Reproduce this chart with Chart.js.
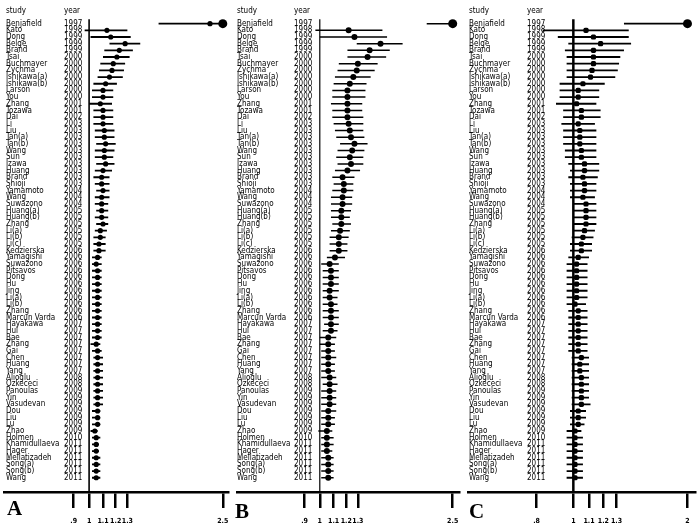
<!DOCTYPE html>
<html>
<head>
<meta charset="utf-8">
<script src="https://cdn.jsdelivr.net/npm/chart.js@4.4.1/dist/chart.umd.min.js"></script>
<style>
  body { margin: 0; background: #fff; }
  #wrap { position: relative; width: 700px; height: 528px; overflow: hidden; }
  .panel { position: absolute; top: 0; height: 528px; }
  .tag { position: absolute; font: bold 21px "Liberation Serif", "DejaVu Serif", serif; line-height: 21px; color: #000; }
</style>
</head>
<body>
<div id="wrap">
  <div class="panel" style="left:0;width:233px"><canvas id="chartA" width="233" height="528"></canvas></div>
  <div class="panel" style="left:233px;width:231px"><canvas id="chartB" width="231" height="528"></canvas></div>
  <div class="panel" style="left:464px;width:236px"><canvas id="chartC" width="236" height="528"></canvas></div>
  <div class="tag" style="left:7px;top:498px">A</div>
  <div class="tag" style="left:235px;top:501px">B</div>
  <div class="tag" style="left:469px;top:501px">C</div>
</div>
<script>
// study list (same order in all three panels)
const studies = ['Benjafield','Kato','Dong','Belge','Brand','Tsai','Buchmayer','Zychma','Ishikawa(a)','Ishikawa(b)',
  'Larson','You','Zhang','Tozawa','Dai','Li','Liu','Tan(a)','Tan(b)','Wang',
  'Sun','Izawa','Huang','Brand','Shioji','Yamamoto','Wang','Suwazono','Huang(a)','Huang(b)',
  'Zhang','Li(a)','Li(b)','Li(c)','Kedzierska','Yamagishi','Suwazono','Pitsavos','Dong','Hu',
  'Jing','Li(a)','Li(b)','Zhang','Marcun Varda','Hayakawa','Hui','Bae','Zhang','Gai',
  'Chen','Huang','Yang','Alioğlu','Ozkececi','Panoulas','Yin','Vasudevan','Dou','Liu',
  'Lu','Zhao','Holmen','Khamidullaeva','Hager','Mellatizadeh','Song(a)','Song(b)','Wang'];
const years = ['1997','1998','1999','1999','1999','2000','2000','2000','2000','2000',
  '2000','2000','2001','2001','2002','2003','2003','2003','2003','2003',
  '2003','2003','2003','2003','2003','2004','2004','2004','2005','2005',
  '2005','2005','2005','2005','2006','2006','2006','2006','2006','2006',
  '2006','2006','2006','2006','2006','2007','2007','2007','2007','2007',
  '2007','2007','2007','2008','2008','2009','2009','2009','2009','2009',
  '2009','2009','2010','2011','2011','2011','2011','2011','2011'];

// panel A: cumulative OR and 95% CI
const orA = [2.29,1.13,1.16,1.28,1.23,1.21,1.18,1.17,1.15,1.12,
  1.10,1.10,1.08,1.10,1.10,1.10,1.11,1.11,1.12,1.11,
  1.11,1.12,1.10,1.09,1.09,1.10,1.09,1.09,1.09,1.09,
  1.10,1.08,1.08,1.07,1.07,1.06,1.05,1.06,1.06,1.06,
  1.06,1.06,1.06,1.06,1.06,1.06,1.06,1.06,1.05,1.06,
  1.06,1.06,1.06,1.06,1.06,1.06,1.06,1.06,1.06,1.06,
  1.06,1.04,1.05,1.05,1.05,1.05,1.05,1.05,1.05];
const loA = [1.61,0.97,1.01,1.15,1.11,1.10,1.08,1.07,1.06,1.03,
  1.02,1.02,1.00,1.03,1.03,1.03,1.04,1.04,1.05,1.04,
  1.04,1.05,1.04,1.03,1.04,1.05,1.04,1.04,1.05,1.04,
  1.05,1.04,1.03,1.03,1.03,1.02,1.02,1.02,1.02,1.02,
  1.02,1.02,1.02,1.02,1.02,1.02,1.02,1.02,1.01,1.02,
  1.03,1.03,1.03,1.03,1.03,1.03,1.03,1.03,1.02,1.02,
  1.02,1.01,1.02,1.02,1.02,1.02,1.02,1.02,1.02];
const hiA = [3.50,1.30,1.33,1.42,1.35,1.32,1.28,1.27,1.26,1.21,
  1.18,1.18,1.17,1.18,1.18,1.18,1.19,1.19,1.20,1.19,
  1.18,1.19,1.17,1.15,1.15,1.15,1.15,1.14,1.14,1.14,
  1.14,1.13,1.12,1.12,1.12,1.09,1.09,1.09,1.09,1.09,
  1.09,1.09,1.09,1.09,1.09,1.09,1.09,1.09,1.08,1.09,
  1.10,1.10,1.10,1.10,1.10,1.10,1.10,1.10,1.08,1.08,
  1.08,1.06,1.08,1.07,1.07,1.08,1.08,1.08,1.08];

// panel B
const orB = [2.70,1.22,1.27,1.52,1.41,1.39,1.30,1.29,1.26,1.23,
  1.21,1.21,1.21,1.21,1.21,1.22,1.23,1.24,1.27,1.25,
  1.23,1.24,1.21,1.17,1.18,1.18,1.17,1.17,1.16,1.16,
  1.16,1.15,1.14,1.14,1.14,1.11,1.07,1.08,1.08,1.08,
  1.07,1.07,1.08,1.08,1.08,1.08,1.08,1.06,1.06,1.06,
  1.06,1.06,1.06,1.07,1.07,1.07,1.07,1.07,1.06,1.06,
  1.06,1.05,1.05,1.05,1.05,1.06,1.06,1.06,1.06];
const loB = [2.09,0.97,1.00,1.29,1.21,1.21,1.14,1.13,1.11,1.10,
  1.09,1.09,1.08,1.09,1.09,1.10,1.11,1.12,1.15,1.13,
  1.12,1.13,1.11,1.09,1.10,1.09,1.08,1.08,1.08,1.08,
  1.09,1.08,1.07,1.07,1.07,1.05,1.01,1.02,1.02,1.02,
  1.02,1.02,1.02,1.02,1.02,1.03,1.02,1.00,1.00,1.01,
  1.01,1.01,1.01,1.01,1.02,1.01,1.01,1.01,1.01,1.01,
  1.01,0.99,1.01,1.01,1.01,1.01,1.01,1.01,1.01];
const hiB = [4.00,1.54,1.59,1.77,1.62,1.58,1.49,1.46,1.42,1.38,
  1.37,1.37,1.34,1.34,1.35,1.35,1.35,1.36,1.39,1.36,
  1.35,1.35,1.32,1.27,1.26,1.26,1.25,1.25,1.24,1.23,
  1.24,1.23,1.22,1.21,1.21,1.19,1.14,1.14,1.14,1.14,
  1.14,1.13,1.13,1.14,1.14,1.14,1.13,1.12,1.11,1.11,
  1.12,1.11,1.11,1.12,1.13,1.12,1.12,1.12,1.12,1.11,
  1.11,1.09,1.10,1.10,1.09,1.10,1.10,1.10,1.10];

// panel C
const orC = [2.40,1.08,1.13,1.18,1.13,1.13,1.13,1.12,1.11,1.06,
  1.03,1.03,1.02,1.05,1.05,1.03,1.04,1.04,1.04,1.05,
  1.05,1.07,1.07,1.06,1.07,1.07,1.06,1.08,1.08,1.08,
  1.08,1.07,1.06,1.05,1.05,1.03,1.02,1.02,1.02,1.02,
  1.02,1.02,1.01,1.03,1.03,1.03,1.03,1.03,1.03,1.03,
  1.05,1.04,1.04,1.05,1.05,1.05,1.05,1.05,1.03,1.03,
  1.03,1.01,1.01,1.01,1.01,1.01,1.01,1.01,1.01];
const loC = [1.36,0.83,0.91,0.97,0.95,0.96,0.96,0.96,0.96,0.92,
  0.92,0.92,0.90,0.94,0.94,0.93,0.94,0.94,0.94,0.95,
  0.95,0.97,0.98,0.97,0.98,0.98,0.98,1.00,1.00,1.00,
  1.00,1.00,0.99,0.98,0.98,0.97,0.96,0.96,0.96,0.96,
  0.96,0.96,0.96,0.97,0.97,0.97,0.97,0.97,0.97,0.97,
  0.99,0.99,0.99,0.99,0.99,0.99,0.99,0.99,0.98,0.98,
  0.98,0.96,0.96,0.96,0.96,0.96,0.96,0.96,0.96];
const hiC = [5.00,1.40,1.40,1.42,1.36,1.33,1.32,1.31,1.29,1.21,
  1.17,1.17,1.15,1.18,1.18,1.14,1.15,1.15,1.15,1.15,
  1.15,1.17,1.17,1.16,1.15,1.15,1.14,1.15,1.15,1.15,
  1.15,1.14,1.13,1.12,1.12,1.10,1.09,1.09,1.09,1.09,
  1.09,1.09,1.08,1.09,1.09,1.09,1.09,1.09,1.09,1.09,
  1.10,1.10,1.10,1.10,1.10,1.10,1.10,1.11,1.08,1.08,
  1.07,1.05,1.06,1.06,1.06,1.06,1.06,1.06,1.06];

// axis ticks
const ticksAB = [0.9, 1, 1.1, 1.2, 1.3, 2.5];
const tickLabelsAB = ['.9', '1', '1.1', '1.2', '1.3', '2.5'];
const ticksC = [0.8, 1, 1.1, 1.2, 1.3, 2];
const tickLabelsC = ['.8', '1', '1.1', '1.2', '1.3', '2'];

// row axis: row 1 sits 19px below the top, 6.74px per row
const Y_MIN = -1.864;
const Y_MAX = 71.13;
const HEADER_ROW = -0.97;
const REF_TOP = 0.36;
const labelFont = '8px "Liberation Sans Narrow", "DejaVu Sans Condensed", sans-serif';

// draws the study / year columns
const studyLabels = {
  id: 'studyLabels',
  afterDraw(chart, args, opts) {
    const ctx = chart.ctx;
    const y = chart.scales.y;
    ctx.save();
    ctx.fillStyle = '#000';
    ctx.font = labelFont;
    ctx.textBaseline = 'middle';
    ctx.textAlign = 'left';
    ctx.fillText('study', opts.studyX, y.getPixelForValue(HEADER_ROW));
    ctx.fillText('year', opts.yearX, y.getPixelForValue(HEADER_ROW));
    studies.forEach((s, i) => {
      const py = y.getPixelForValue(i + 1);
      ctx.fillText(s, opts.studyX, py);
      ctx.fillText(years[i], opts.yearX, py);
    });
    ctx.restore();
  }
};

function makePanel(id, p) {
  // CI segments, broken by NaN rows; upper end clipped at the arrow position
  const ci = [];
  p.lo.forEach((lo, i) => {
    ci.push({x: lo, y: i + 1}, {x: Math.min(p.hi[i], p.clip), y: i + 1}, {x: lo, y: NaN});
  });
  const pts = p.or.map((v, i) => ({x: v, y: i + 1})).filter(d => d.x <= p.clip);
  const arrows = p.hi.map((v, i) => ({x: p.clip, y: i + 1, over: v > p.clip})).filter(d => d.over);

  return new Chart(document.getElementById(id), {
    type: 'scatter',
    data: {
      datasets: [
        { data: [{x: 1, y: REF_TOP}, {x: 1, y: Y_MAX}], showLine: true, borderColor: '#000',
          borderWidth: p.refWidth, pointRadius: 0 },
        { data: ci, showLine: true, spanGaps: false, borderColor: '#000', borderWidth: p.ciWidth, pointRadius: 0 },
        { data: pts, pointStyle: p.marker, pointRadius: p.markerSize, backgroundColor: '#000', borderColor: '#000', borderWidth: 0 },
        { data: arrows, pointStyle: 'circle', pointRadius: 4.5, backgroundColor: '#000', borderColor: '#000', borderWidth: 0 }
      ]
    },
    options: {
      responsive: false,
      animation: false,
      layout: { padding: 0 },
      plugins: { legend: { display: false }, tooltip: { enabled: false },
        studyLabels: { studyX: p.studyX, yearX: p.yearX } },
      scales: {
        x: {
          type: 'logarithmic', min: p.min, max: p.max, bounds: 'data',
          afterBuildTicks: s => { s.ticks = p.ticks.map(v => ({value: v})); },
          afterFit: s => { s.height = 36; s.paddingLeft = 0; s.paddingRight = 0; },
          ticks: { autoSkip: false, maxRotation: 0, padding: 9, color: '#000',
            font: { family: '"Liberation Sans Narrow", "DejaVu Sans Condensed", sans-serif', size: 7, weight: 'bold' },
            callback: (v, i) => p.tickLabels[i] },
          grid: { drawOnChartArea: false, drawTicks: true, tickLength: 16, lineWidth: 2.5, color: '#000' },
          border: { display: true, color: '#000', width: 2.5 }
        },
        y: { type: 'linear', reverse: true, min: Y_MIN, max: Y_MAX, display: false }
      }
    },
    plugins: [studyLabels]
  });
}

makePanel('chartA', { or: orA, lo: loA, hi: hiA, clip: 2.5, min: 0.560, max: 2.60,
  ticks: ticksAB, tickLabels: tickLabelsAB, studyX: 6, yearX: 64,
  refWidth: 1.6, ciWidth: 1.8, marker: 'circle', markerSize: 2.6 });
makePanel('chartB', { or: orB, lo: loB, hi: hiB, clip: 2.5, min: 0.567, max: 2.62,
  ticks: ticksAB, tickLabels: tickLabelsAB, studyX: 4, yearX: 61,
  refWidth: 1.2, ciWidth: 1.5, marker: 'circle', markerSize: 3 });
makePanel('chartC', { or: orC, lo: loC, hi: hiC, clip: 2, min: 0.529, max: 2.10,
  ticks: ticksC, tickLabels: tickLabelsC, studyX: 5, yearX: 63,
  refWidth: 2.5, ciWidth: 1.8, marker: 'rectRounded', markerSize: 3 });
</script>
</body>
</html>
